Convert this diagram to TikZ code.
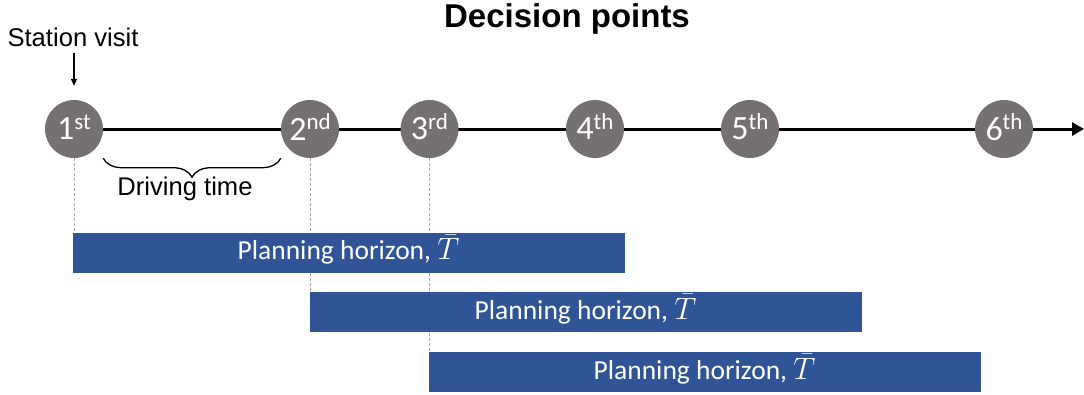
\RequirePackage{fix-cm}
\documentclass[tikz,border=0pt]{standalone}
\usepackage{fontspec}
\setmainfont{Carlito}
\newfontfamily\arialfont{Liberation Sans}
\usetikzlibrary{arrows.meta,decorations.pathreplacing,backgrounds}

\definecolor{dpgray}{HTML}{767171}
\definecolor{barblue}{HTML}{2F5597}
\definecolor{guidegray}{HTML}{A6A6A6}

% ordinal suffix, raised without changing the box height
\newcommand\ordsuf[1]{\raisebox{10.5pt}[0pt][0pt]{\fontsize{23}{23}\selectfont #1}}
% horizon length symbol, kept out of the line height
\newcommand\horizonsym{\smash{{\fontsize{31}{31}\selectfont$\bar{T}$}}}

\begin{document}
\begin{tikzpicture}[x=1pt,y=-1pt,
  dpoint/.style={circle, fill=dpgray, minimum size=58pt, inner sep=0pt,
    text=white, font=\fontsize{34}{34}\selectfont},
  horizon/.style={fill=barblue, minimum width=552pt, minimum height=40.5pt,
    inner sep=0pt, anchor=north west, text=white, font=\fontsize{27.5}{28}\selectfont},
  lbl/.style={font=\arialfont\fontsize{25.6}{26}\selectfont, inner sep=0pt, anchor=base},
  titletext/.style={font=\arialfont\bfseries\fontsize{33}{34}\selectfont, inner sep=0pt, anchor=base},
  timeline/.style={line width=3pt, -{Triangle[length=12pt,width=13pt]}},
  guide/.style={guidegray, line width=0.8pt, dash pattern=on 3pt off 2pt},
  pointer/.style={line width=1.3pt, -{Triangle[length=7pt,width=6pt]}},
  bracestyle/.style={line width=1.3pt, decorate, decoration={brace, amplitude=19pt}},
]
\useasboundingbox (0,0) rectangle (1084,394);

% title and labels
\node[titletext] (title) at (567,27) {Decision points};
\node[lbl] (visit) at (73,46.5) {Station visit};

% decision points
\node[dpoint] (c1) at (74,129)    {1\ordsuf{st}};
\node[dpoint] (c2) at (310,129)   {2\ordsuf{nd}};
\node[dpoint] (c3) at (429.5,129) {3\ordsuf{rd}};
\node[dpoint] (c4) at (595,129)   {4\ordsuf{th}};
\node[dpoint] (c5) at (750,129)   {5\ordsuf{th}};
\node[dpoint] (c6) at (1004,129)  {6\ordsuf{th}};
\coordinate (tend) at (1084,129);

% planning horizons
\node[horizon] (h1) at (72.3,232.3)  {Planning horizon, \horizonsym};
\node[horizon] (h2) at (309.3,291.7) {Planning horizon, \horizonsym};
\node[horizon] (h3) at (428.3,351.7) {Planning horizon, \horizonsym};

\begin{scope}[on background layer]
  \draw[timeline] (c1.center) -- (tend);
  \draw[guide] (c1.south) -- (c1.south |- h1.north);
  \draw[guide] (c2.south) -- (c2.south |- h2.north);
  \draw[guide] (c3.south) -- (c3.south |- h3.north);
\end{scope}

% station visit pointer
\draw[pointer, shorten <=6pt, shorten >=14pt] (c1.north |- visit.south) -- (c1.north);

% driving time brace
\draw[bracestyle] (c2.west |- c2.south) -- (c1.east |- c1.south);
\node[lbl] (drive) at (185,195) {Driving time};
\end{tikzpicture}
\end{document}
